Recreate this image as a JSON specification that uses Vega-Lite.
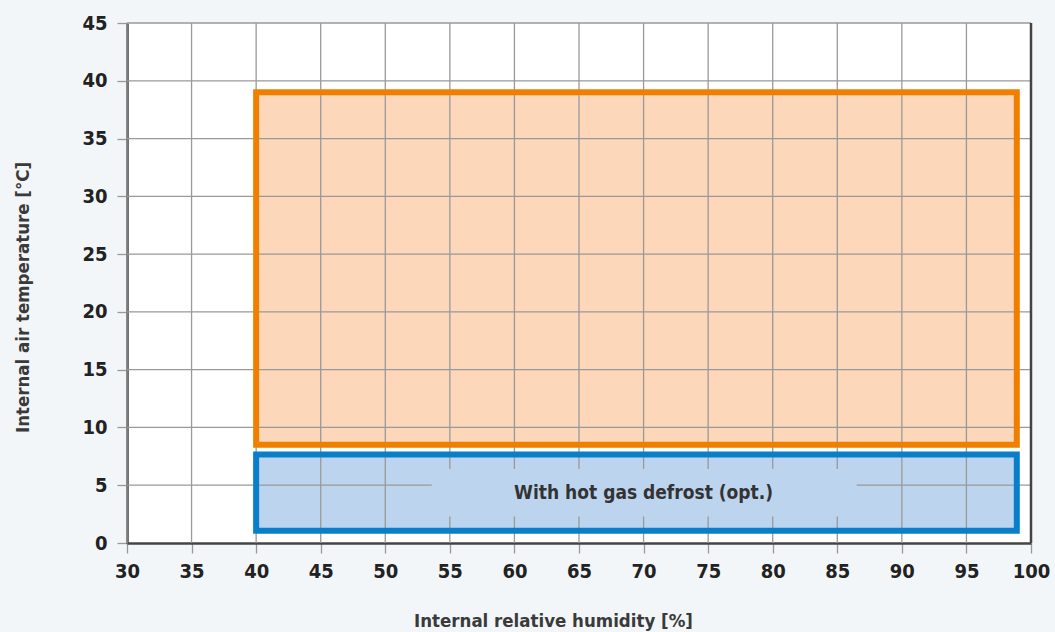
{
  "$schema": "https://vega.github.io/schema/vega-lite/v6.json",
  "width": 904,
  "height": 520,
  "autosize": "none",
  "padding": {"left": 127, "top": 23, "right": 24, "bottom": 89},
  "background": "#f3f6f8",
  "datasets": {
    "zones": [
      {"zone": "Operating range", "x1": 40, "x2": 98.9, "y1": 8.5, "y2": 39},
      {"zone": "With hot gas defrost (opt.)", "x1": 40, "x2": 98.9, "y1": 1.05, "y2": 7.65}
    ],
    "gridx": [{"gx": 30}, {"gx": 35}, {"gx": 40}, {"gx": 45}, {"gx": 50}, {"gx": 55}, {"gx": 60}, {"gx": 65}, {"gx": 70}, {"gx": 75}, {"gx": 80}, {"gx": 85}, {"gx": 90}, {"gx": 95}],
    "gridy": [{"gy": 5}, {"gy": 10}, {"gy": 15}, {"gy": 20}, {"gy": 25}, {"gy": 30}, {"gy": 35}, {"gy": 40}, {"gy": 45}],
    "labelbox": [{"label": "With hot gas defrost (opt.)", "bx1": 53.6, "bx2": 86.5, "by1": 2.3, "by2": 6.4, "tx": 70, "ty": 3.8}],
    "border": [{"rx": 100}]
  },
  "layer": [
    {
      "data": {"name": "zones"},
      "mark": {"type": "rect", "strokeWidth": 0},
      "encoding": {
        "x": {"field": "x1", "type": "quantitative", "scale": {"domain": [30, 100], "nice": false, "zero": false}, "title": "Internal relative humidity [%]",
              "axis": {"values": [30, 35, 40, 45, 50, 55, 60, 65, 70, 75, 80, 85, 90, 95, 100], "labelFlush": false}},
        "x2": {"field": "x2"},
        "y": {"field": "y1", "type": "quantitative", "scale": {"domain": [0, 45], "nice": false}, "title": "Internal air temperature [°C]",
              "axis": {"values": [0, 5, 10, 15, 20, 25, 30, 35, 40, 45], "labelFlush": false}},
        "y2": {"field": "y2"},
        "fill": {"field": "zone", "type": "nominal", "scale": {"domain": ["Operating range", "With hot gas defrost (opt.)"], "range": ["#fcd7b9", "#bdd4ef"]}, "legend": null}
      }
    },
    {
      "data": {"name": "gridx"},
      "mark": {"type": "rule", "color": "#999999", "strokeWidth": 1.3},
      "encoding": {
        "x": {"field": "gx", "type": "quantitative", "title": "Internal relative humidity [%]"}
      }
    },
    {
      "data": {"name": "gridy"},
      "mark": {"type": "rule", "color": "#999999", "strokeWidth": 1.3},
      "encoding": {
        "y": {"field": "gy", "type": "quantitative", "title": "Internal air temperature [°C]"}
      }
    },
    {
      "data": {"name": "zones"},
      "mark": {"type": "rect", "fillOpacity": 0, "strokeWidth": 6},
      "encoding": {
        "x": {"field": "x1", "type": "quantitative", "title": "Internal relative humidity [%]"},
        "x2": {"field": "x2"},
        "y": {"field": "y1", "type": "quantitative", "title": "Internal air temperature [°C]"},
        "y2": {"field": "y2"},
        "stroke": {"field": "zone", "type": "nominal", "scale": {"domain": ["Operating range", "With hot gas defrost (opt.)"], "range": ["#f07f00", "#0a7fc9"]}, "legend": null}
      }
    },
    {
      "data": {"name": "labelbox"},
      "mark": {"type": "rect", "fill": "#bdd4ef", "strokeWidth": 0},
      "encoding": {
        "x": {"field": "bx1", "type": "quantitative", "title": "Internal relative humidity [%]"},
        "x2": {"field": "bx2"},
        "y": {"field": "by1", "type": "quantitative", "title": "Internal air temperature [°C]"},
        "y2": {"field": "by2"}
      }
    },
    {
      "data": {"name": "labelbox"},
      "mark": {"type": "text", "font": "DejaVu Sans Condensed", "fontWeight": "bold", "fontSize": 19, "color": "#333333", "align": "center", "baseline": "alphabetic"},
      "encoding": {
        "x": {"field": "tx", "type": "quantitative", "title": "Internal relative humidity [%]"},
        "y": {"field": "ty", "type": "quantitative", "title": "Internal air temperature [°C]"},
        "text": {"field": "label"}
      }
    },
    {
      "data": {"name": "border"},
      "mark": {"type": "rule", "color": "#444444", "strokeWidth": 2.5},
      "encoding": {
        "x": {"field": "rx", "type": "quantitative", "title": "Internal relative humidity [%]"}
      }
    }
  ],
  "config": {
    "view": {"fill": "white", "stroke": null},
    "axis": {
      "grid": false,
      "zindex": 1,
      "domainColor": "#444444",
      "domainWidth": 2.5,
      "tickColor": "#999999",
      "tickSize": 10,
      "tickWidth": 1.3,
      "labelFont": "DejaVu Sans Condensed",
      "labelFontWeight": "bold",
      "labelFontSize": 20,
      "labelColor": "#222222",
      "titleFont": "DejaVu Sans Condensed",
      "titleFontWeight": "bold",
      "titleFontSize": 18.5,
      "titleColor": "#3a3a3a"
    },
    "axisX": {
      "labelPadding": 8,
      "titleX": 426,
      "titleY": 83,
      "titleBaseline": "alphabetic"
    },
    "axisY": {
      "labelPadding": 10,
      "titleX": -99,
      "titleY": 274,
      "titleBaseline": "alphabetic"
    }
  }
}
